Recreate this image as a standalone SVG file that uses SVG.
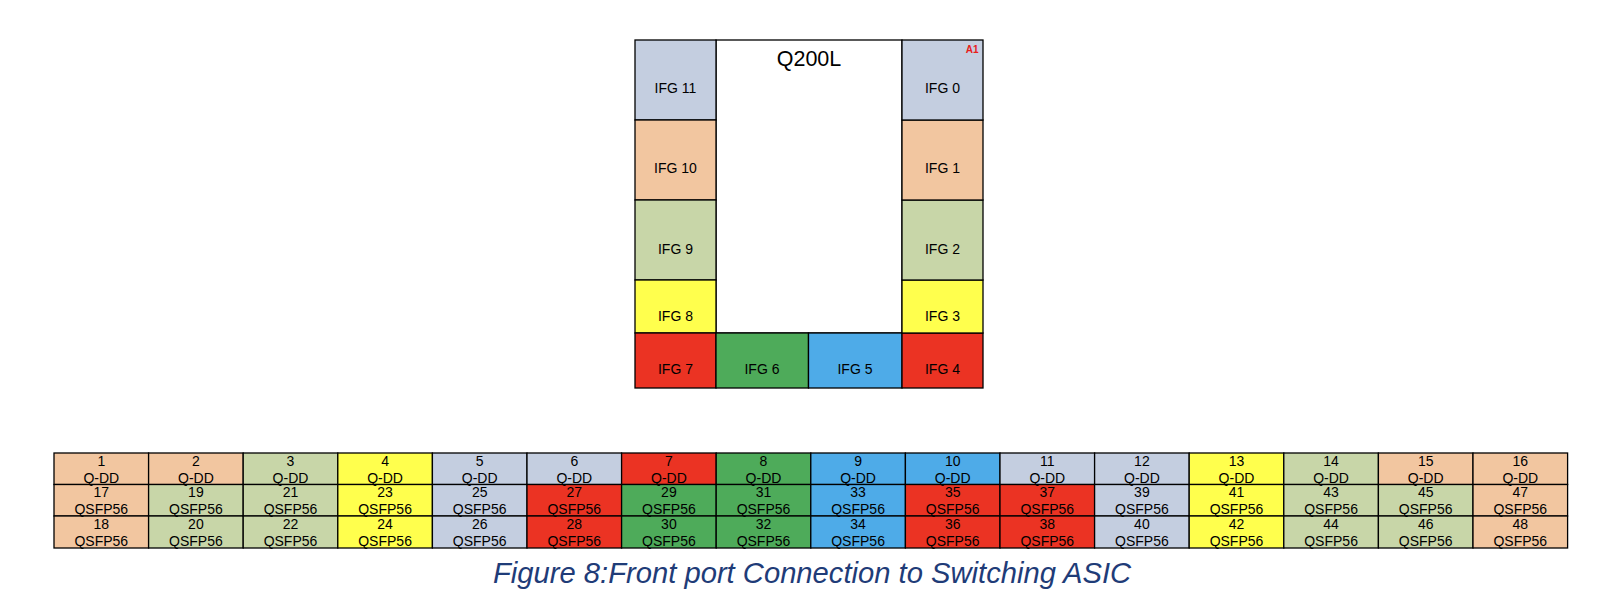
<svg xmlns="http://www.w3.org/2000/svg" width="1600" height="603" viewBox="0 0 1600 603">
<style>
rect{stroke:#000;stroke-width:1.3}
.bg{fill:#C4CEE0}.pc{fill:#F2C6A0}.lg{fill:#C8D6A8}.ye{fill:#FFFF4D}.rd{fill:#EB3323}.gr{fill:#4EAB5A}.bl{fill:#4EABE8}.wh{fill:#fff}
text{font-family:"Liberation Sans",Arial,sans-serif;fill:#000;text-anchor:middle}
.ifg{font-size:14px}
.t{font-size:14px}
.a1{font-size:10px;font-weight:bold;fill:#E8201A;text-anchor:end}
.cap{font-size:29.2px;font-style:italic;fill:#1F3C78;text-anchor:start}
</style>
<rect width="1600" height="603" style="fill:#fff;stroke:none"/>
<g id="chip">
<rect class="wh" x="716" y="40" width="186" height="293"/>
<text x="809" y="66" style="font-size:21.5px">Q200L</text>
</g>
<g id="ifg11"><rect class="bg" x="635" y="40" width="81" height="80"/><text class="ifg" x="675.5" y="93">IFG 11</text></g>
<g id="ifg10"><rect class="pc" x="635" y="120" width="81" height="80"/><text class="ifg" x="675.5" y="173.3">IFG 10</text></g>
<g id="ifg9"><rect class="lg" x="635" y="200" width="81" height="80"/><text class="ifg" x="675.5" y="254">IFG 9</text></g>
<g id="ifg8"><rect class="ye" x="635" y="280" width="81" height="53"/><text class="ifg" x="675.5" y="320.7">IFG 8</text></g>
<g id="ifg7"><rect class="rd" x="635" y="333" width="81" height="55"/><text class="ifg" x="675.5" y="374.3">IFG 7</text></g>
<g id="ifg6"><rect class="gr" x="716" y="333" width="92.5" height="55"/><text class="ifg" x="762" y="374.3">IFG 6</text></g>
<g id="ifg5"><rect class="bl" x="808.5" y="333" width="93.5" height="55"/><text class="ifg" x="855" y="374.3">IFG 5</text></g>
<g id="ifg4"><rect class="rd" x="902" y="333" width="81" height="55"/><text class="ifg" x="942.5" y="374.3">IFG 4</text></g>
<g id="ifg3"><rect class="ye" x="902" y="280" width="81" height="53"/><text class="ifg" x="942.5" y="320.7">IFG 3</text></g>
<g id="ifg2"><rect class="lg" x="902" y="200" width="81" height="80"/><text class="ifg" x="942.5" y="254">IFG 2</text></g>
<g id="ifg1"><rect class="pc" x="902" y="120" width="81" height="80"/><text class="ifg" x="942.5" y="173.3">IFG 1</text></g>
<g id="ifg0"><rect class="bg" x="902" y="40" width="81" height="80"/><text class="ifg" x="942.5" y="93">IFG 0</text><text class="a1" x="978.5" y="53.3">A1</text></g>
<g id="connectors"></g>
<g id="ports">
<g id="col1"><rect class="pc" x="54" y="453" width="94.6" height="31.5"/><rect class="pc" x="54" y="484.5" width="94.6" height="31.5"/><rect class="pc" x="54" y="516" width="94.6" height="32"/>
<text class="t" x="101.3" y="465.5">1</text><text class="t" x="101.3" y="482.5">Q-DD</text><text class="t" x="101.3" y="497">17</text><text class="t" x="101.3" y="514">QSFP56</text><text class="t" x="101.3" y="528.5">18</text><text class="t" x="101.3" y="545.5">QSFP56</text></g>
<g id="col2"><rect class="pc" x="148.6" y="453" width="94.6" height="31.5"/><rect class="lg" x="148.6" y="484.5" width="94.6" height="31.5"/><rect class="lg" x="148.6" y="516" width="94.6" height="32"/>
<text class="t" x="195.9" y="465.5">2</text><text class="t" x="195.9" y="482.5">Q-DD</text><text class="t" x="195.9" y="497">19</text><text class="t" x="195.9" y="514">QSFP56</text><text class="t" x="195.9" y="528.5">20</text><text class="t" x="195.9" y="545.5">QSFP56</text></g>
<g id="col3"><rect class="lg" x="243.2" y="453" width="94.6" height="31.5"/><rect class="lg" x="243.2" y="484.5" width="94.6" height="31.5"/><rect class="lg" x="243.2" y="516" width="94.6" height="32"/>
<text class="t" x="290.5" y="465.5">3</text><text class="t" x="290.5" y="482.5">Q-DD</text><text class="t" x="290.5" y="497">21</text><text class="t" x="290.5" y="514">QSFP56</text><text class="t" x="290.5" y="528.5">22</text><text class="t" x="290.5" y="545.5">QSFP56</text></g>
<g id="col4"><rect class="ye" x="337.8" y="453" width="94.6" height="31.5"/><rect class="ye" x="337.8" y="484.5" width="94.6" height="31.5"/><rect class="ye" x="337.8" y="516" width="94.6" height="32"/>
<text class="t" x="385.1" y="465.5">4</text><text class="t" x="385.1" y="482.5">Q-DD</text><text class="t" x="385.1" y="497">23</text><text class="t" x="385.1" y="514">QSFP56</text><text class="t" x="385.1" y="528.5">24</text><text class="t" x="385.1" y="545.5">QSFP56</text></g>
<g id="col5"><rect class="bg" x="432.4" y="453" width="94.6" height="31.5"/><rect class="bg" x="432.4" y="484.5" width="94.6" height="31.5"/><rect class="bg" x="432.4" y="516" width="94.6" height="32"/>
<text class="t" x="479.7" y="465.5">5</text><text class="t" x="479.7" y="482.5">Q-DD</text><text class="t" x="479.7" y="497">25</text><text class="t" x="479.7" y="514">QSFP56</text><text class="t" x="479.7" y="528.5">26</text><text class="t" x="479.7" y="545.5">QSFP56</text></g>
<g id="col6"><rect class="bg" x="527" y="453" width="94.6" height="31.5"/><rect class="rd" x="527" y="484.5" width="94.6" height="31.5"/><rect class="rd" x="527" y="516" width="94.6" height="32"/>
<text class="t" x="574.3" y="465.5">6</text><text class="t" x="574.3" y="482.5">Q-DD</text><text class="t" x="574.3" y="497">27</text><text class="t" x="574.3" y="514">QSFP56</text><text class="t" x="574.3" y="528.5">28</text><text class="t" x="574.3" y="545.5">QSFP56</text></g>
<g id="col7"><rect class="rd" x="621.6" y="453" width="94.6" height="31.5"/><rect class="gr" x="621.6" y="484.5" width="94.6" height="31.5"/><rect class="gr" x="621.6" y="516" width="94.6" height="32"/>
<text class="t" x="668.9" y="465.5">7</text><text class="t" x="668.9" y="482.5">Q-DD</text><text class="t" x="668.9" y="497">29</text><text class="t" x="668.9" y="514">QSFP56</text><text class="t" x="668.9" y="528.5">30</text><text class="t" x="668.9" y="545.5">QSFP56</text></g>
<g id="col8"><rect class="gr" x="716.2" y="453" width="94.6" height="31.5"/><rect class="gr" x="716.2" y="484.5" width="94.6" height="31.5"/><rect class="gr" x="716.2" y="516" width="94.6" height="32"/>
<text class="t" x="763.5" y="465.5">8</text><text class="t" x="763.5" y="482.5">Q-DD</text><text class="t" x="763.5" y="497">31</text><text class="t" x="763.5" y="514">QSFP56</text><text class="t" x="763.5" y="528.5">32</text><text class="t" x="763.5" y="545.5">QSFP56</text></g>
<g id="col9"><rect class="bl" x="810.8" y="453" width="94.6" height="31.5"/><rect class="bl" x="810.8" y="484.5" width="94.6" height="31.5"/><rect class="bl" x="810.8" y="516" width="94.6" height="32"/>
<text class="t" x="858.1" y="465.5">9</text><text class="t" x="858.1" y="482.5">Q-DD</text><text class="t" x="858.1" y="497">33</text><text class="t" x="858.1" y="514">QSFP56</text><text class="t" x="858.1" y="528.5">34</text><text class="t" x="858.1" y="545.5">QSFP56</text></g>
<g id="col10"><rect class="bl" x="905.4" y="453" width="94.6" height="31.5"/><rect class="rd" x="905.4" y="484.5" width="94.6" height="31.5"/><rect class="rd" x="905.4" y="516" width="94.6" height="32"/>
<text class="t" x="952.7" y="465.5">10</text><text class="t" x="952.7" y="482.5">Q-DD</text><text class="t" x="952.7" y="497">35</text><text class="t" x="952.7" y="514">QSFP56</text><text class="t" x="952.7" y="528.5">36</text><text class="t" x="952.7" y="545.5">QSFP56</text></g>
<g id="col11"><rect class="bg" x="1000" y="453" width="94.6" height="31.5"/><rect class="rd" x="1000" y="484.5" width="94.6" height="31.5"/><rect class="rd" x="1000" y="516" width="94.6" height="32"/>
<text class="t" x="1047.3" y="465.5">11</text><text class="t" x="1047.3" y="482.5">Q-DD</text><text class="t" x="1047.3" y="497">37</text><text class="t" x="1047.3" y="514">QSFP56</text><text class="t" x="1047.3" y="528.5">38</text><text class="t" x="1047.3" y="545.5">QSFP56</text></g>
<g id="col12"><rect class="bg" x="1094.6" y="453" width="94.6" height="31.5"/><rect class="bg" x="1094.6" y="484.5" width="94.6" height="31.5"/><rect class="bg" x="1094.6" y="516" width="94.6" height="32"/>
<text class="t" x="1141.9" y="465.5">12</text><text class="t" x="1141.9" y="482.5">Q-DD</text><text class="t" x="1141.9" y="497">39</text><text class="t" x="1141.9" y="514">QSFP56</text><text class="t" x="1141.9" y="528.5">40</text><text class="t" x="1141.9" y="545.5">QSFP56</text></g>
<g id="col13"><rect class="ye" x="1189.2" y="453" width="94.6" height="31.5"/><rect class="ye" x="1189.2" y="484.5" width="94.6" height="31.5"/><rect class="ye" x="1189.2" y="516" width="94.6" height="32"/>
<text class="t" x="1236.5" y="465.5">13</text><text class="t" x="1236.5" y="482.5">Q-DD</text><text class="t" x="1236.5" y="497">41</text><text class="t" x="1236.5" y="514">QSFP56</text><text class="t" x="1236.5" y="528.5">42</text><text class="t" x="1236.5" y="545.5">QSFP56</text></g>
<g id="col14"><rect class="lg" x="1283.8" y="453" width="94.6" height="31.5"/><rect class="lg" x="1283.8" y="484.5" width="94.6" height="31.5"/><rect class="lg" x="1283.8" y="516" width="94.6" height="32"/>
<text class="t" x="1331.1" y="465.5">14</text><text class="t" x="1331.1" y="482.5">Q-DD</text><text class="t" x="1331.1" y="497">43</text><text class="t" x="1331.1" y="514">QSFP56</text><text class="t" x="1331.1" y="528.5">44</text><text class="t" x="1331.1" y="545.5">QSFP56</text></g>
<g id="col15"><rect class="pc" x="1378.4" y="453" width="94.6" height="31.5"/><rect class="lg" x="1378.4" y="484.5" width="94.6" height="31.5"/><rect class="lg" x="1378.4" y="516" width="94.6" height="32"/>
<text class="t" x="1425.7" y="465.5">15</text><text class="t" x="1425.7" y="482.5">Q-DD</text><text class="t" x="1425.7" y="497">45</text><text class="t" x="1425.7" y="514">QSFP56</text><text class="t" x="1425.7" y="528.5">46</text><text class="t" x="1425.7" y="545.5">QSFP56</text></g>
<g id="col16"><rect class="pc" x="1473" y="453" width="94.6" height="31.5"/><rect class="pc" x="1473" y="484.5" width="94.6" height="31.5"/><rect class="pc" x="1473" y="516" width="94.6" height="32"/>
<text class="t" x="1520.3" y="465.5">16</text><text class="t" x="1520.3" y="482.5">Q-DD</text><text class="t" x="1520.3" y="497">47</text><text class="t" x="1520.3" y="514">QSFP56</text><text class="t" x="1520.3" y="528.5">48</text><text class="t" x="1520.3" y="545.5">QSFP56</text></g>
</g>
<text id="caption" class="cap" x="493" y="583.3">Figure 8:Front port Connection to Switching ASIC</text>
</svg>
